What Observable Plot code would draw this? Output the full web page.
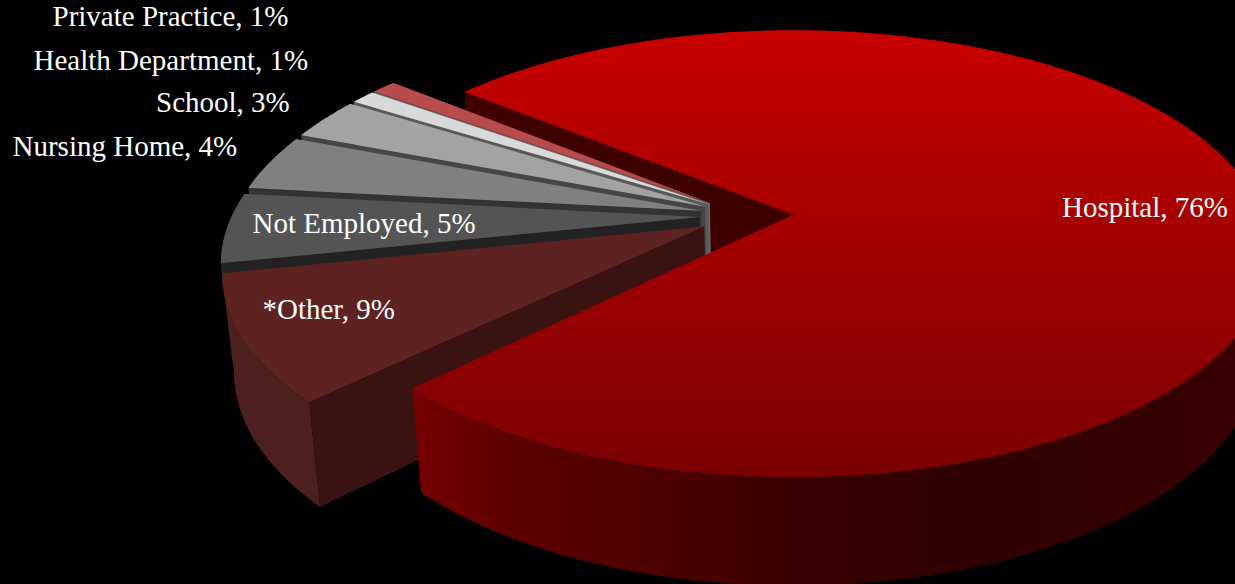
<!DOCTYPE html>
<html>
<head>
<meta charset="utf-8">
<script src="https://cdn.jsdelivr.net/npm/d3@7"></script>
<script src="https://cdn.jsdelivr.net/npm/@observablehq/plot@0.6"></script>
<style>html,body{margin:0;padding:0;background:#000;overflow:hidden}</style>
</head>
<body>
<div id="chart"></div>
<script>
// Employment setting shares, clockwise from the large slice
const categories = ["Hospital", "*Other", "Not Employed", "Nursing Home", "School", "Health Department", "Private Practice"];
const shares = [76, 9, 5, 4, 3, 1, 1];

// Slice colours
const topFills = ["url(#hospitalTop)", "#5E2222", "#545454", "#808080", "#A3A3A3", "#D9D9D9", "#B84C4C"];
const radialWallFills = ["#3F0000", "#3A1212", "#222222", "#333333", "#464646", "#5A5A5A", "#666666"];
const rimFills = ["url(#hospitalRim)", "#4E1F1F", "#333333", "#444444", "#555555", "#666666", "#6B2C2C"];

// Label placement, in the same order as the categories
const labelLeft = [1061.5, 262, 252, 12, 155.5, 33, 52];
const labelMiddle = [207, 309, 223, 146, 102, 60, 16];

// Camera and pie set-up for the tilted disc
const view = {cx: 793, cy: 215, sx: 470, sy: 217, tilt: 0.174, rise: 97, sink: 0.02};
const pie3d = {ox: -0.1, oy: 0.002, explode: 0.1, radiusLarge: 1, radiusSmall: 0.995, startDeg: 309};

const project = (u, v, z) => {
  const w = 1 - view.tilt * v + view.sink * z;
  return {x: view.cx + view.sx * u / w, y: view.cy + (view.sy * v + view.rise * z) / w};
};

const start = pie3d.startDeg * Math.PI / 180;
const arcs = d3.pie().sort(null).startAngle(start).endAngle(start + 2 * Math.PI)(shares);

// Outline pieces of one exploded slice, from its share of the circle
const slices = arcs.map((a, i) => {
  const radius = i === 0 ? pie3d.radiusLarge : pie3d.radiusSmall;
  const mid = (a.startAngle + a.endAngle) / 2;
  const u0 = pie3d.ox + pie3d.explode * Math.sin(mid);
  const v0 = pie3d.oy - pie3d.explode * Math.cos(mid);
  const n = Math.max(2, Math.ceil((a.endAngle - a.startAngle) / 0.015));
  const angles = d3.range(n + 1).map(j => a.startAngle + (a.endAngle - a.startAngle) * j / n);
  const at = z => t => project(u0 + radius * Math.sin(t), v0 - radius * Math.cos(t), z);
  const topRim = angles.map(at(0));
  // only the part of the rim that faces the camera gets a side wall
  const facing = angles.filter(t => Math.cos(t) < -view.tilt * radius);
  const outerTop = facing.map(at(0)), outerLow = facing.map(at(1));
  const apexTop = project(u0, v0, 0), apexLow = project(u0, v0, 1);
  return {
    top: [apexTop, ...topRim, apexTop],
    outer: facing.length ? [...outerTop, ...outerLow.reverse(), outerTop[0]] : [],
    radial: [apexTop, topRim[0], at(1)(a.startAngle), apexLow, apexTop],
    topFill: topFills[i], rimFill: rimFills[i], wallFill: radialWallFills[i]
  };
});

const polygon = (points, fill) =>
  Plot.line(points, {x: "x", y: "y", fill, stroke: "none", curve: "linear"});

const drawSlice = s => [polygon(s.outer, s.rimFill), polygon(s.radial, s.wallFill), polygon(s.top, s.topFill)];

// Gradients referenced by the large slice
const gradients = () => {
  const defs = d3.create("svg:defs");
  const add = (id, horizontal, stops) => {
    const g = defs.append("linearGradient").attr("id", id)
      .attr("x1", 0).attr("y1", 0).attr("x2", horizontal ? 1 : 0).attr("y2", horizontal ? 0 : 1);
    stops.forEach(([o, c]) => g.append("stop").attr("offset", o).attr("stop-color", c));
  };
  add("hospitalTop", false, [[0, "#C80000"], [1, "#7A0000"]]);
  add("hospitalRim", true, [[0, "#780000"], [0.12, "#5A0000"], [0.3, "#4C0000"], [0.44, "#3A0000"], [0.65, "#2E0000"], [0.9, "#360000"], [1, "#3C0000"]]);
  return defs.node();
};

const [hospital, ...others] = slices;

const marks = [
  gradients,
  polygon(hospital.radial, hospital.wallFill),
  // small slices painted from the back forward
  ...others.slice().reverse().flatMap(drawSlice),
  polygon(hospital.outer, hospital.rimFill),
  polygon(hospital.top, hospital.topFill),
  Plot.text(categories.map((c, i) => ({label: `${c}, ${shares[i]}%`, x: labelLeft[i], y: labelMiddle[i]})), {
    x: "x", y: "y", text: "label", textAnchor: "start", fill: "#FFFFFF",
    fontFamily: "Liberation Serif", fontSize: 29
  })
];

const chart = Plot.plot({
  width: 1235, height: 584,
  margin: 0,
  x: {domain: [0, 1235], range: [0, 1235], axis: null},
  y: {domain: [0, 584], range: [0, 584], axis: null},
  style: {background: "#000", display: "block"},
  marks
});
document.getElementById("chart").appendChild(chart);
</script>
</body>
</html>
